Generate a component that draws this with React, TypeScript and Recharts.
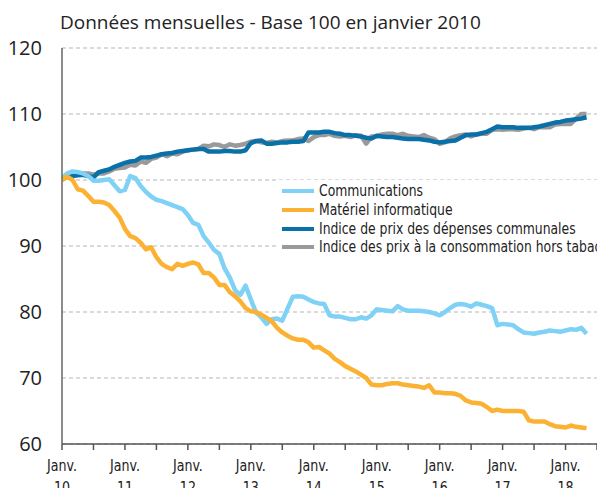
import React from 'react';
import { LineChart, Line, XAxis, YAxis, CartesianGrid } from 'recharts';

const title = 'Données mensuelles - Base 100 en janvier 2010';
const yearLabels = ['10', '11', '12', '13', '14', '15', '16', '17', '18'];
const xTicks = [0, 6, 12, 18, 24, 30, 36, 42, 48, 54, 60, 66, 72, 78, 84, 90, 96, 102];
const yTicks = [60, 70, 80, 90, 100, 110, 120];

const communications = [
  100.3, 101.0, 101.3, 101.2, 101.0, 100.6, 99.9, 99.9, 100.0, 100.1, 99.2, 98.3,
  98.5, 100.6, 100.3, 99.1, 98.2, 97.5, 97.0, 96.8, 96.5, 96.2, 95.9, 95.6,
  94.7, 93.5, 93.2, 91.5, 90.5, 89.4, 88.8, 86.6, 85.2, 83.3, 82.6, 84.0,
  81.9, 79.9, 79.2, 78.2, 78.9, 79.0, 78.7, 80.5, 82.3, 82.4, 82.3, 81.9,
  81.5, 81.3, 81.2, 79.5, 79.3, 79.3, 79.1, 78.9, 78.9, 79.2, 79.0, 79.5,
  80.4, 80.3, 80.2, 80.1, 80.9, 80.4, 80.2, 80.2, 80.2, 80.1, 80.0, 79.8,
  79.5, 80.0, 80.6, 81.1, 81.2, 81.1, 80.8, 81.3, 81.1, 80.9, 80.6, 78.0,
  78.2, 78.1, 78.0, 77.4, 76.9, 76.8, 76.7, 76.9, 77.0, 77.2, 77.1, 77.0,
  77.2, 77.4, 77.3, 77.6, 76.7,
];

const informatique = [
  100.0, 100.5, 100.0, 98.6, 98.4, 97.6, 96.7, 96.7, 96.6, 96.2, 95.3, 94.3,
  92.6, 91.5, 91.2, 90.5, 89.5, 89.8, 88.3, 87.3, 86.8, 86.5, 87.3, 87.0,
  87.3, 87.5, 87.2, 85.9, 85.9, 85.2, 84.1, 84.1, 83.0, 82.4, 81.6, 80.6,
  80.1, 80.0, 79.6, 79.1, 78.6, 77.6, 76.9, 76.4, 76.0, 75.8, 75.8, 75.4,
  74.6, 74.7, 74.2, 73.7, 72.9, 72.4, 71.8, 71.4, 71.0, 70.5, 70.0, 69.0,
  68.9, 68.9, 69.1, 69.2, 69.2, 69.0, 68.9, 68.8, 68.7, 68.5, 68.9, 67.8,
  67.8, 67.7, 67.7, 67.6, 67.3, 66.6, 66.3, 66.2, 66.1, 65.6, 65.0, 65.2,
  65.0, 65.0, 65.0, 65.0, 64.9, 63.6, 63.4, 63.4, 63.4, 63.0, 62.7, 62.6,
  62.5, 62.8, 62.6, 62.5, 62.4,
];

const depensesCommunales = [
  100.2, 100.4, 100.6, 100.7, 100.8, 100.6, 100.4, 101.2, 101.4, 101.6, 102.0, 102.3,
  102.6, 102.8, 102.9, 103.4, 103.4, 103.5, 103.7, 103.9, 104.0, 104.1, 104.3, 104.4,
  104.5, 104.6, 104.7, 104.7, 104.3, 104.3, 104.3, 104.4, 104.4, 104.3, 104.3, 104.5,
  105.6, 105.9, 106.0, 105.5, 105.5, 105.6, 105.7, 105.7, 105.8, 105.8, 105.9, 107.2,
  107.2, 107.2, 107.3, 107.3, 107.1, 107.0, 106.8, 106.8, 106.7, 106.6, 106.4, 106.3,
  106.7, 106.6, 106.5, 106.5, 106.4, 106.3, 106.2, 106.2, 106.2, 106.1, 106.0, 105.8,
  105.7, 105.8, 105.9, 106.0, 106.4, 106.8, 106.9, 106.9, 107.1, 107.3, 107.7, 108.1,
  108.0, 108.0, 108.0, 107.9, 107.9, 107.9, 108.0, 108.1, 108.3, 108.5, 108.7, 108.8,
  109.0, 109.1, 109.2, 109.3, 109.5,
];

const consoHorsTabac = [
  100.0, 100.7, 101.0, 101.1, 101.0, 101.0, 100.8, 101.0, 101.0, 101.3, 101.7, 101.8,
  101.9, 102.3, 102.2, 102.8, 102.6, 103.2, 103.4, 103.9, 103.6, 104.0, 103.9, 104.3,
  104.5, 104.6, 104.7, 105.2, 105.1, 105.4, 105.3, 105.0, 105.4, 105.2, 105.3, 105.5,
  105.8, 105.9, 105.7, 105.6, 105.8, 105.7, 105.9, 106.0, 106.0, 106.2, 106.3, 105.9,
  106.5, 106.8, 106.8, 107.0, 106.7, 106.6, 106.7, 106.5, 106.8, 106.7, 105.5, 106.6,
  106.6, 106.9, 107.0, 107.0, 106.8, 107.0, 106.7, 106.6, 106.5, 106.8, 106.4, 106.2,
  105.5, 105.7, 106.3, 106.6, 106.8, 106.9, 106.6, 106.9, 107.0, 107.0, 107.6, 107.7,
  107.6, 107.7, 107.7, 107.6, 107.8, 107.9, 107.7, 108.0, 108.0, 108.0, 108.4, 108.5,
  108.5, 108.5, 109.3, 110.0, 110.0,
];

const seriesNames = [
  'Communications',
  'Matériel informatique',
  'Indice de prix des dépenses communales',
  'Indice des prix à la consommation hors tabac',
];
const seriesColors = ['#7fd2f6', '#fbb233', '#0a70a8', '#9a9a9a'];

const data = communications.map((v, i) => ({
  m: i,
  comm: v,
  info: informatique[i],
  dep: depensesCommunales[i],
  ipc: consoHorsTabac[i],
}));

const condensed = '"DejaVu Sans Condensed", "Liberation Sans Narrow", sans-serif';
const regular = '"Open Sans", "Noto Sans", sans-serif';

const XTick = (props: any) => {
  const { x, y, payload } = props;
  const v = payload.value as number;
  if (v % 12 !== 0) return null;
  const label = yearLabels[v / 12];
  return (
    <g transform={`translate(${x},${y})`}>
      <g transform="scale(0.88,1)">
        <text x={0} y={19} textAnchor="middle" fontSize={16} fill="#222" fontFamily={condensed}>
          Janv.
        </text>
        <text x={0} y={41} textAnchor="middle" fontSize={16} fill="#222" fontFamily={condensed}>
          {label}
        </text>
      </g>
    </g>
  );
};

const LegendBox = () => (
  <div
    style={{
      position: 'absolute',
      left: 277,
      top: 180,
      width: 320,
      height: 74,
      background: '#fff',
      paddingLeft: 5,
      paddingTop: 2,
      boxSizing: 'border-box',
      overflow: 'hidden',
    }}
  >
    {[0, 1, 2, 3].map((i) => (
      <div key={i} style={{ display: 'flex', alignItems: 'center', height: 18.7, whiteSpace: 'nowrap' }}>
        <span style={{ display: 'inline-block', flex: '0 0 auto', width: 32, height: 4, background: seriesColors[i], marginRight: 5 }} />
        <span
          style={{
            display: 'inline-block',
            fontFamily: condensed,
            fontSize: 16,
            lineHeight: '18px',
            color: '#222',
            transform: 'scaleX(0.86)',
            transformOrigin: 'left center',
          }}
        >
          {seriesNames[i]}
        </span>
      </div>
    ))}
  </div>
);

export default function App() {
  return (
    <div style={{ position: 'absolute', left: 0, top: 0, width: 597, height: 488, background: '#fff', overflow: 'hidden' }}>
      <div style={{ position: 'absolute', left: 60, top: 13, fontFamily: regular, fontSize: 19, lineHeight: '19px', color: '#222', whiteSpace: 'nowrap' }}>
        {title}
      </div>
      <LineChart width={597} height={488} data={data} margin={{ top: 48, right: 0, bottom: 0, left: 0 }}>
        <CartesianGrid horizontal vertical={false} strokeDasharray="4 3" stroke="#b5b5b5" />
        <XAxis
          type="number"
          dataKey="m"
          domain={[0, 102]}
          ticks={xTicks}
          interval={0}
          height={44}
          tick={<XTick />}
          tickSize={6}
          stroke="#555"
          strokeWidth={1.5}
          allowDataOverflow
        />
        <YAxis
          domain={[60, 120]}
          ticks={yTicks}
          width={62}
          tickLine={false}
          tickSize={0}
          tickMargin={20}
          stroke="#666"
          strokeWidth={1.5}
          tick={{ fontSize: 20, fill: '#222', fontFamily: regular }}
          allowDataOverflow
        />
        <Line dataKey="ipc" name={seriesNames[3]} stroke={seriesColors[3]} strokeWidth={4.5} dot={false} isAnimationActive={false} strokeLinejoin="round" />
        <Line dataKey="dep" name={seriesNames[2]} stroke={seriesColors[2]} strokeWidth={4.5} dot={false} isAnimationActive={false} strokeLinejoin="round" />
        <Line dataKey="comm" name={seriesNames[0]} stroke={seriesColors[0]} strokeWidth={4.5} dot={false} isAnimationActive={false} strokeLinejoin="round" />
        <Line dataKey="info" name={seriesNames[1]} stroke={seriesColors[1]} strokeWidth={4.5} dot={false} isAnimationActive={false} strokeLinejoin="round" />
      </LineChart>
      <LegendBox />
    </div>
  );
}
